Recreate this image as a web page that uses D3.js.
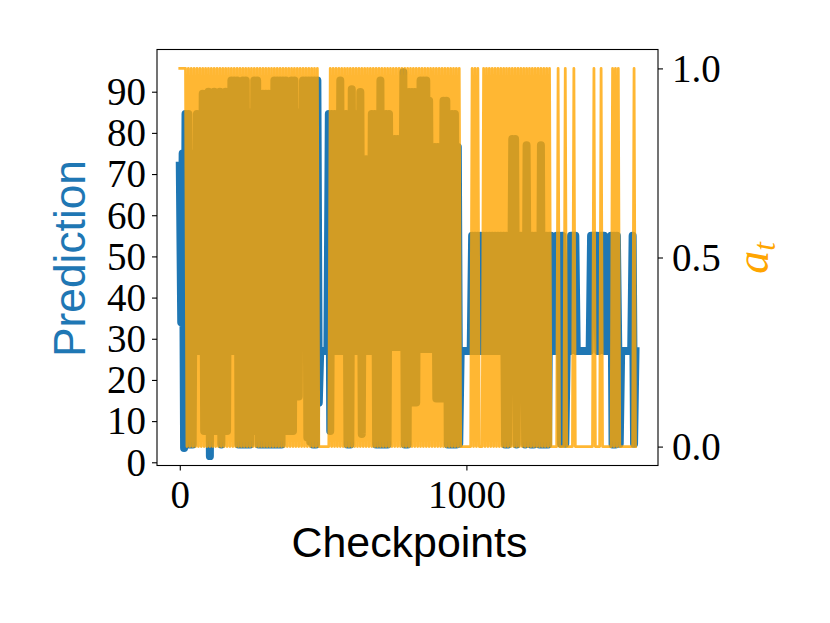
<!DOCTYPE html>
<html><head><meta charset="utf-8">
<script src="https://cdn.jsdelivr.net/npm/d3@7"></script>
<style>html,body{margin:0;padding:0;background:#fff;} svg{display:block;}</style>
</head><body>
<svg id="chart" width="830" height="623"></svg>
<script>
// Checkpoints are sampled every 5 steps (index i -> checkpoint 5*i)
const checkpointStep = 5;

// Prediction (left axis), one value per sampled checkpoint
const prediction = [
  72, 34, 75, 3.5, 84.6, 4.3, 84.6, 4.3, 75, 4.3,
  75, 27, 84.6, 27, 84.6, 27, 89.5, 7.6, 89.5, 7.6,
  90, 1.5, 89.5, 7.6, 90, 7.6, 89.5, 7.6, 90, 4.3,
  89.5, 7.6, 90, 7.6, 89.5, 27, 92.7, 27, 92.7, 27,
  92.7, 4.3, 85, 4.3, 92.7, 4.3, 92.7, 4.3, 85, 4.3,
  85, 7.6, 92.7, 7.6, 92.7, 4.3, 85, 4.3, 89.5, 4.3,
  89.5, 4.3, 89.5, 4.3, 77.5, 4.3, 92.7, 4.3, 92.7, 4.3,
  92.7, 4.3, 92.7, 7.6, 92.7, 7.6, 85, 7.6, 92.7, 7.6,
  92.7, 16, 85, 16, 85, 29, 92.7, 29, 92.7, 6,
  92.7, 5, 92.7, 4.3, 92.7, 4.3, 92.7, 14.5, 27, 27,
  27, 27, 27, 27, 84.6, 7.6, 84.6, 27, 84.6, 27,
  84.6, 27, 92.7, 27, 84.6, 27, 84.6, 4.3, 84.6, 4.3,
  90.6, 27, 84.6, 27, 84.6, 27, 89.9, 6.9, 73.6, 27,
  73.6, 27, 73.6, 27, 84.6, 27, 84.6, 4.3, 84.6, 4.3,
  92.7, 4.3, 84.6, 4.3, 84.6, 4.3, 84.6, 28, 72.5, 28,
  78.5, 28, 78.5, 28, 78.5, 28, 94.7, 4.3, 89.9, 4.3,
  89.9, 14.5, 89.9, 14.5, 89.9, 14.5, 89.9, 27.5, 92.7, 27.5,
  92.7, 27.5, 92.7, 27.5, 87.8, 27.5, 76.6, 27.5, 76.6, 15.5,
  76.6, 15.5, 76.6, 15.5, 87.8, 15.5, 87.8, 4.3, 84.6, 4.3,
  84.6, 4.3, 84.6, 4.3, 76.6, 4.5, 27, 27, 27, 27,
  27, 27, 27, 27, 55, 27, 55, 27, 55, 27,
  55, 27, 55, 27, 55, 27, 55, 27, 55, 27,
  55, 27, 55, 27, 55, 27, 55, 4.3, 55, 4.3,
  55, 27, 78.5, 27, 78.5, 4.3, 55, 27, 55, 27,
  55, 4.3, 77, 27, 55, 4.3, 55, 4.3, 55, 27,
  55, 4.3, 77, 4.3, 55, 4.3, 55, 4.3, 55, 55,
  27, 27, 27, 55, 55, 55, 4.5, 55, 27, 4.5,
  27, 27, 27, 55, 55, 55, 55, 27, 27, 27,
  27, 27, 27, 27, 27, 27, 27, 55, 55, 55,
  55, 55, 27, 55, 55, 55, 55, 27, 27, 27,
  27, 55, 4.3, 55, 4.3, 55, 27, 4.5, 27, 27,
  27, 27, 27, 27, 27, 27, 55, 4.5, 27
];

// a_t (right axis), binary, one digit per sampled checkpoint (groups of 10)
const atBits =
  "1111101010 1010101010 1010101010 1010101010 1010101010 " +
  "1010101010 1010101010 1010101010 1010101010 1010101000 " +
  "0000010101 0101010101 0101010101 0101010101 0101010101 " +
  "0101010101 0101010101 0101010101 0101010101 0101010000 " +
  "0000101010 0010101010 1010101010 1010101010 1010101010 " +
  "1010101010 0000100001 0000010000 0000000001 0000100000 " +
  "0010101000 000000010";
const atValues = atBits.replace(/\s/g, "").split("").map(Number);

const xTickValues = [0, 1000];
const yLeftTickValues = [0, 10, 20, 30, 40, 50, 60, 70, 80, 90];
const yRightTickValues = [0, 0.5, 1.0];
const yRightTickLabels = ["0.0", "0.5", "1.0"];

const blue = "#1f77b4";
const orange = "#ffa500";

const L = 157, R = 658, T = 49.5, B = 465.5;
const svg = d3.select("#chart");

const x = d3.scaleLinear().domain([-79.5, 1668.5]).range([L, R]);
const yL = d3.scaleLinear().domain([-0.78, 100.25]).range([B, T]);
const yR = d3.scaleLinear().domain([-0.05, 1.05]).range([B, T]);

svg.append("defs").append("clipPath").attr("id", "clip")
  .append("rect").attr("x", L).attr("y", T).attr("width", R - L).attr("height", B - T);

const plot = svg.append("g").attr("clip-path", "url(#clip)");

const predLine = d3.line().x((d, i) => x(i * checkpointStep)).y(d => yL(d));
const atLine = d3.line().x((d, i) => x(i * checkpointStep)).y(d => yR(d));

plot.append("path").datum(prediction)
  .attr("d", predLine)
  .attr("fill", "none").attr("stroke", blue).attr("stroke-width", 8)
  .attr("stroke-linejoin", "round").attr("stroke-linecap", "square");

plot.append("path").datum(atValues)
  .attr("d", atLine)
  .attr("fill", "none").attr("stroke", orange).attr("stroke-opacity", 0.8)
  .attr("stroke-width", 2.8)
  .attr("stroke-linejoin", "round").attr("stroke-linecap", "square");

// frame
svg.append("rect").attr("x", L).attr("y", T).attr("width", R - L).attr("height", B - T)
  .attr("fill", "none").attr("stroke", "#000").attr("stroke-width", 1.1);

const tickFont = "'Liberation Serif', 'Times New Roman', serif";
const tickFS = 39;

const gL = svg.append("g").attr("transform", `translate(${L},0)`)
  .call(d3.axisLeft(yL).tickValues(yLeftTickValues).tickSize(5).tickPadding(6));
const gR = svg.append("g").attr("transform", `translate(${R},0)`)
  .call(d3.axisRight(yR).tickValues(yRightTickValues).tickSize(5).tickPadding(9)
    .tickFormat((d, i) => yRightTickLabels[i]));
const gB = svg.append("g").attr("transform", `translate(0,${B})`)
  .call(d3.axisBottom(x).tickValues(xTickValues).tickSize(5).tickPadding(9).tickFormat(d3.format("d")));

[gL, gR, gB].forEach(g => {
  g.select(".domain").remove();
  g.selectAll(".tick line").attr("stroke", "#000").attr("stroke-width", 1.1);
  g.selectAll(".tick text").attr("fill", "#000")
    .style("font-family", tickFont).style("font-size", tickFS + "px");
});
gL.selectAll(".tick text").attr("dy", "0.33em");
gR.selectAll(".tick text").attr("dy", "0.33em");
gB.selectAll(".tick text").attr("dy", "0.72em");

function fitWidth(sel, target) {
  const w = sel.node().getComputedTextLength();
  const fs = parseFloat(sel.style("font-size"));
  sel.style("font-size", (fs * target / w) + "px");
}

const labelFont = "'Liberation Sans', Arial, sans-serif";
const xl = svg.append("text").attr("x", 409.5).attr("y", 557)
  .attr("text-anchor", "middle").attr("fill", "#000")
  .style("font-family", labelFont).style("font-size", "40px").text("Checkpoints");
fitWidth(xl, 236);

const yl = svg.append("text").attr("transform", "translate(85,258.5) rotate(-90)")
  .attr("text-anchor", "middle").attr("fill", blue)
  .style("font-family", labelFont).style("font-size", "40px").text("Prediction");
fitWidth(yl, 197);

const rl = svg.append("text").attr("transform", "translate(768,258) rotate(-90)")
  .attr("text-anchor", "middle").attr("fill", orange)
  .style("font-family", "'Liberation Serif', serif").style("font-style", "italic")
  .style("font-size", "46px");
rl.append("tspan").text("a");
rl.append("tspan").attr("dy", 7).style("font-size", "31px").text("t");
</script>
</body></html>
